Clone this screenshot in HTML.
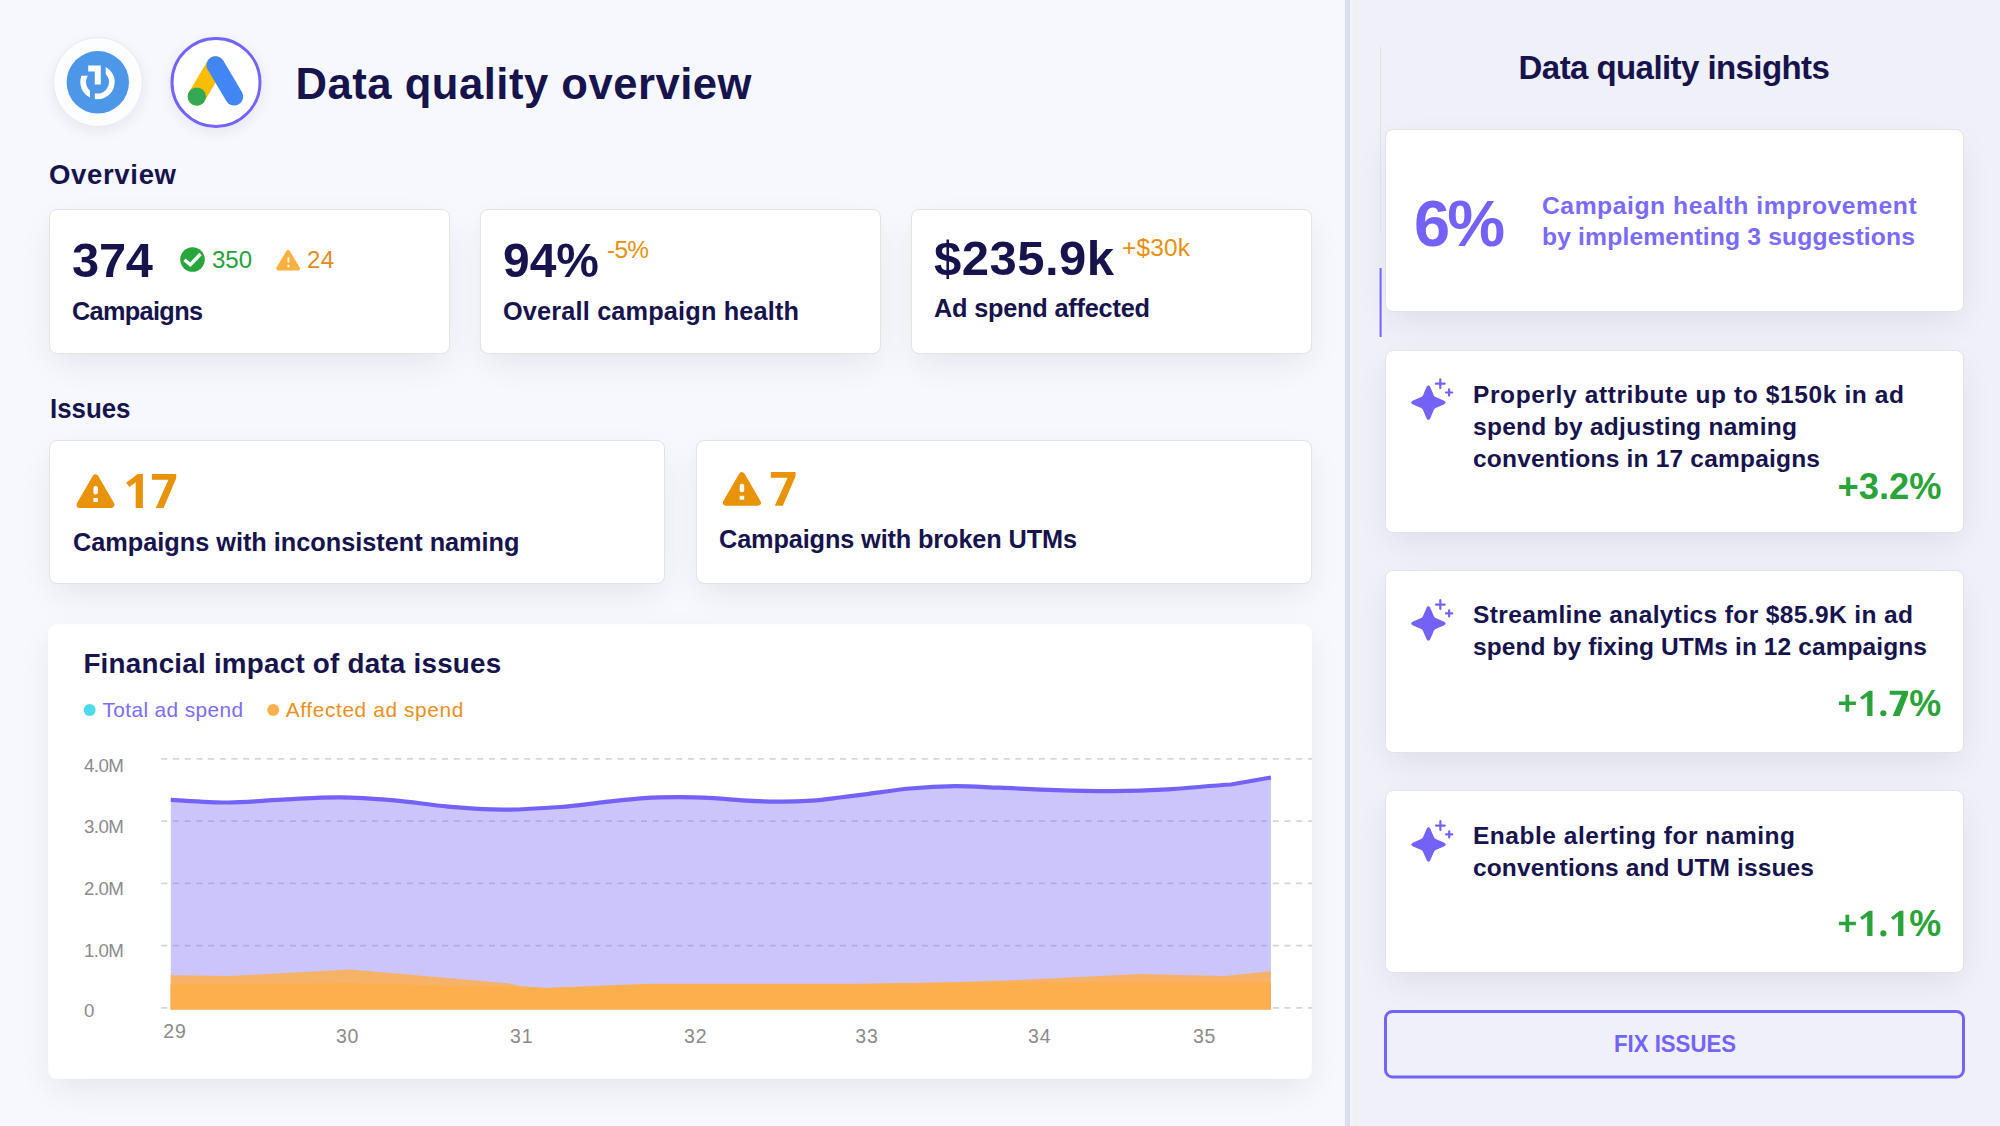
<!DOCTYPE html>
<html><head><meta charset="utf-8">
<style>
html,body{margin:0;padding:0;}
body{width:2000px;height:1126px;overflow:hidden;position:relative;background:#f7f8fd;font-family:"Liberation Sans",sans-serif;}
.card{position:absolute;background:#fff;border:1px solid #e3e3e6;border-radius:8px;box-sizing:border-box;box-shadow:0 12px 34px -6px rgba(40,40,70,0.10);}
#rp{position:absolute;left:1345px;top:0;width:655px;height:1126px;background:#f0f0f9;}
#div{position:absolute;left:1345px;top:0;width:5px;height:1126px;background:#dadeef;}
svg{position:absolute;left:0;top:0;}
text{font-family:"Liberation Sans",sans-serif;}
.b{font-weight:bold;}
.nv{fill:#16134d;}
</style></head><body>
<div id="rp"></div>
<div id="div"></div>
<div style="position:absolute;left:1350px;top:0;width:3px;height:1126px;background:#f2f3f8;"></div>

<!-- overview cards -->
<div class="card" style="left:49px;top:209px;width:401px;height:145px;"></div>
<div class="card" style="left:480px;top:209px;width:401px;height:145px;"></div>
<div class="card" style="left:911px;top:209px;width:401px;height:145px;"></div>
<!-- issues -->
<div class="card" style="left:49px;top:440px;width:616px;height:144px;"></div>
<div class="card" style="left:696px;top:440px;width:616px;height:144px;"></div>
<!-- chart -->
<div class="card" style="left:48px;top:624px;width:1264px;height:455px;border-color:#fbfbfd;"></div>
<!-- right cards -->
<div class="card" style="left:1385px;top:129px;width:579px;height:183px;"></div>
<div class="card" style="left:1385px;top:350px;width:579px;height:183px;"></div>
<div class="card" style="left:1385px;top:570px;width:579px;height:183px;"></div>
<div class="card" style="left:1385px;top:790px;width:579px;height:183px;"></div>

<div style="position:absolute;left:53.5px;top:37.5px;width:89px;height:89px;border-radius:50%;box-shadow:0 4px 14px rgba(30,30,90,0.08);"></div>
<div style="position:absolute;left:170.5px;top:36.9px;width:91px;height:91px;border-radius:50%;box-shadow:0 4px 14px rgba(30,30,90,0.08);"></div>
<svg width="2000" height="1126" viewBox="0 0 2000 1126">
<!-- logos -->
<defs><clipPath id="bc"><circle cx="97.8" cy="82.3" r="31.2"/></clipPath></defs>
<circle cx="98" cy="82" r="44.5" fill="#fcfdff" stroke="#e9e9ee" stroke-width="1"/>
<circle cx="97.8" cy="82.3" r="31.2" fill="#4d97e8"/>
<g clip-path="url(#bc)">
<circle cx="97.5" cy="82.1" r="14.35" fill="none" stroke="#fff" stroke-width="5.7"/>
<rect x="75" y="58" width="30.7" height="17.7" fill="#4d97e8"/>
<rect x="90" y="88" width="4.8" height="14" fill="#4d97e8"/>
<path d="M88.2 65.5H100.8V84.5H94.8V71.5H88.2Z" fill="#fff"/>
</g>
<circle cx="216" cy="82.4" r="44" fill="#fff" stroke="#7463f7" stroke-width="3"/>
<line x1="196.8" y1="96.6" x2="215.5" y2="65.2" stroke="#fbbc04" stroke-width="18" stroke-linecap="round"/>
<line x1="215.5" y1="65.2" x2="234.2" y2="96.6" stroke="#4285f4" stroke-width="18" stroke-linecap="round"/>
<circle cx="196.8" cy="96.6" r="9.2" fill="#34a853"/>

<text x="295.5" y="98.8" class="b nv" font-size="43.6" textLength="456">Data quality overview</text>
<text x="49" y="183.6" class="b nv" font-size="27.5" textLength="127">Overview</text>
<text x="50" y="417.5" class="b nv" font-size="28" textLength="80.5" lengthAdjust="spacingAndGlyphs">Issues</text>

<!-- card 1 -->
<text x="72" y="276.9" class="b nv" font-size="48.8" textLength="81">374</text>
<circle cx="192.5" cy="259.5" r="12.3" fill="#28a63c"/>
<path d="M184.4 259.8L190.3 264.7L200.5 254" fill="none" stroke="#fff" stroke-width="3.4"/>
<text x="212" y="268.1" fill="#22a33a" font-size="24" textLength="40">350</text>
<path d="M288.1 252L298 268.6H278.2Z" fill="#fbb040" stroke="#fbb040" stroke-width="4" stroke-linejoin="round"/>
<rect x="287.5" y="257.4" width="1.9" height="5.1" fill="#fff"/>
<rect x="287.5" y="264.7" width="1.9" height="2.5" fill="#fff"/>
<text x="307" y="268.1" fill="#e38a1d" font-size="24" textLength="27">24</text>
<text x="72" y="319.7" class="b nv" font-size="25.3" textLength="131">Campaigns</text>

<!-- card 2 -->
<text x="503" y="277.1" class="b nv" font-size="48.8" textLength="96" lengthAdjust="spacingAndGlyphs">94%</text>
<text x="607" y="257.7" fill="#e8900f" font-size="24.4" textLength="42">-5%</text>
<text x="503" y="320.1" class="b nv" font-size="25.3" textLength="296">Overall campaign health</text>

<!-- card 3 -->
<text x="934" y="274.5" class="b nv" font-size="49" textLength="180">$235.9k</text>
<text x="1122" y="255.6" fill="#e8900f" font-size="24.4" textLength="68">+$30k</text>
<text x="934" y="317.2" class="b nv" font-size="25.3" textLength="216">Ad spend affected</text>

<!-- issues -->
<path d="M95.5 477.6L111.2 504.7H79.8Z" fill="#e8930a" stroke="#e8930a" stroke-width="6.4" stroke-linejoin="round"/>
<rect x="93.4" y="486" width="4.5" height="8.4" rx="2" fill="#fff"/>
<rect x="93.4" y="498" width="4.5" height="3.9" fill="#fff"/>
<path d="M126.1 482.7L137.8 474H142.9V507.9H135.7V482.2L129.4 486.9Z M151.9 474H176.2V478.2L163.6 507.9H155.8L168.4 479.7H151.9Z" fill="#e8930a"/>
<text x="73" y="551" class="b nv" font-size="25.3" textLength="446.5">Campaigns with inconsistent naming</text>

<path d="M741.9 475.4L757.7 502.6H726.1Z" fill="#e8930a" stroke="#e8930a" stroke-width="6.4" stroke-linejoin="round"/>
<rect x="739.7" y="483.8" width="4.5" height="8.4" rx="2" fill="#fff"/>
<rect x="739.7" y="495.8" width="4.5" height="3.9" fill="#fff"/>
<path d="M770.8 472H795.6V476.2L782.8 505.8H774.8L787.6 477.7H770.8Z" fill="#e8930a"/>
<text x="719" y="548" class="b nv" font-size="25.3" textLength="358">Campaigns with broken UTMs</text>

<!-- CHART -->
<text x="83.4" y="673.4" class="b nv" font-size="27.8" textLength="417.8">Financial impact of data issues</text>

<text x="102.5" y="717" fill="#7b6cf6" font-size="20.8" textLength="140.5">Total ad spend</text>
<circle cx="89.6" cy="710" r="6" fill="#4ddbe9"/>
<circle cx="273.2" cy="710" r="6" fill="#fdb04f"/>
<text x="285.8" y="717" fill="#e8901e" font-size="20.8" textLength="177.5">Affected ad spend</text>
<g fill="#8b8b8b" font-size="18.7">
<text x="83.9" y="772" textLength="40">4.0M</text>
<text x="83.9" y="833.4" textLength="40">3.0M</text>
<text x="83.9" y="895" textLength="40">2.0M</text>
<text x="83.9" y="956.8" textLength="40">1.0M</text>
<text x="84" y="1017.4">0</text>
</g>
<g fill="#8b8b8b" font-size="19.5">
<text x="163.3" y="1038.4" textLength="22.5">29</text>
<text x="335.9" y="1043" textLength="22.5">30</text>
<text x="510" y="1043" textLength="22.5">31</text>
<text x="684.1" y="1043" textLength="22.5">32</text>
<text x="855.3" y="1043" textLength="22.5">33</text>
<text x="1028" y="1043" textLength="22.5">34</text>
<text x="1192.9" y="1043" textLength="22.5">35</text>
</g>
<g stroke="#d6d6d8" stroke-width="1.8" stroke-dasharray="6 5.7" stroke-dashoffset="-2.7">
<line x1="158.6" y1="758.9" x2="1312" y2="758.9"/>
<line x1="158.6" y1="821.1" x2="1312" y2="821.1"/>
<line x1="158.6" y1="883.3" x2="1312" y2="883.3"/>
<line x1="158.6" y1="945.6" x2="1312" y2="945.6"/>
<line x1="158.6" y1="1007.8" x2="1312" y2="1007.8"/>
</g>
<path d="M170.8 799.8 C180.4 800.2 209.2 802.6 228.4 802.5 C247.6 802.4 267.4 800.3 286.0 799.4 C304.6 798.5 322.0 797.1 340.0 797.3 C358.0 797.4 376.0 798.8 394.0 800.3 C412.0 801.8 430.0 805.0 448.0 806.6 C466.0 808.2 483.3 809.6 502.0 809.7 C520.7 809.8 543.3 808.2 560.0 807.0 C576.7 805.8 588.0 803.9 602.0 802.4 C616.0 800.9 631.2 799.1 644.0 798.2 C656.8 797.3 667.3 797.1 679.0 797.1 C690.7 797.1 703.5 797.7 714.0 798.2 C724.5 798.7 731.5 799.7 742.0 800.3 C752.5 800.9 765.3 801.6 777.0 801.7 C788.7 801.8 801.5 801.4 812.0 800.7 C822.5 800.0 831.2 798.6 840.0 797.5 C848.8 796.4 853.3 795.8 865.0 794.3 C876.7 792.8 895.0 789.9 910.0 788.5 C925.0 787.1 940.0 786.3 955.0 786.2 C970.0 786.1 983.2 787.1 1000.0 787.7 C1016.8 788.4 1037.3 789.5 1056.0 790.1 C1074.7 790.7 1093.3 791.2 1112.0 791.1 C1130.7 791.0 1148.2 790.5 1168.0 789.4 C1187.8 788.3 1210.7 785.6 1231.0 784.5 L1270.9 777.5 L1270.9 1009.6 L170.8 1009.6 Z" fill="#7461f7" fill-opacity="0.37"/>
<path d="M170.6 975.2 L230.0 976.0 L350.4 969.6 L510.0 983.6 L521.0 986.4 L546.0 988.0 L650.0 984.5 L860.0 984.3 L944.0 982.6 L1028.0 979.6 L1140.0 974.0 L1224.0 976.0 L1270.8 971.2 L1270.8 1009.6 L170.6 1009.6Z" fill="#fdaf4d" fill-opacity="0.85"/>
<path d="M170.6 984.4 L350.0 983.0 L510.0 987.2 L521.0 986.4 L546.0 988.0 L650.0 983.8 L860.0 983.8 L944.0 982.4 L1028.0 982.2 L1270.8 982.2 L1270.8 1009.6 L170.6 1009.6Z" fill="#fdaf4d"/>
<path d="M170.8 799.8 C180.4 800.2 209.2 802.6 228.4 802.5 C247.6 802.4 267.4 800.3 286.0 799.4 C304.6 798.5 322.0 797.1 340.0 797.3 C358.0 797.4 376.0 798.8 394.0 800.3 C412.0 801.8 430.0 805.0 448.0 806.6 C466.0 808.2 483.3 809.6 502.0 809.7 C520.7 809.8 543.3 808.2 560.0 807.0 C576.7 805.8 588.0 803.9 602.0 802.4 C616.0 800.9 631.2 799.1 644.0 798.2 C656.8 797.3 667.3 797.1 679.0 797.1 C690.7 797.1 703.5 797.7 714.0 798.2 C724.5 798.7 731.5 799.7 742.0 800.3 C752.5 800.9 765.3 801.6 777.0 801.7 C788.7 801.8 801.5 801.4 812.0 800.7 C822.5 800.0 831.2 798.6 840.0 797.5 C848.8 796.4 853.3 795.8 865.0 794.3 C876.7 792.8 895.0 789.9 910.0 788.5 C925.0 787.1 940.0 786.3 955.0 786.2 C970.0 786.1 983.2 787.1 1000.0 787.7 C1016.8 788.4 1037.3 789.5 1056.0 790.1 C1074.7 790.7 1093.3 791.2 1112.0 791.1 C1130.7 791.0 1148.2 790.5 1168.0 789.4 C1187.8 788.3 1210.7 785.6 1231.0 784.5 L1270.9 777.5" fill="none" stroke="#7461f7" stroke-width="4.2"/>

<rect x="1380" y="47" width="1" height="185" fill="#e0e0e6"/>
<rect x="1379.6" y="268" width="2" height="69" fill="#7463f7"/>
<text x="1518.6" y="78.9" class="b nv" font-size="33" textLength="311.3">Data quality insights</text>
<text x="1414" y="245.5" class="b" fill="#7461f6" font-size="65" textLength="91">6%</text>
<g class="b" fill="#7b6af6" font-size="24.7">
<text x="1542" y="213.5" textLength="374.7">Campaign health improvement</text>
<text x="1542" y="244.8" textLength="373">by implementing 3 suggestions</text>
</g>
<g transform="translate(1428.4,402.6)" fill="#7461f6">
<path d="M-2.00 -15.30 C-1.00 -17.80 1.00 -17.80 2.00 -15.30 L5.49 -7.19 Q6.00 -6.00 7.19 -5.49 L15.30 -2.00 C17.80 -1.00 17.80 1.00 15.30 2.00 L7.19 5.49 Q6.00 6.00 5.49 7.19 L2.00 15.30 C1.00 17.80 -1.00 17.80 -2.00 15.30 L-5.49 7.19 Q-6.00 6.00 -7.19 5.49 L-15.30 2.00 C-17.80 1.00 -17.80 -1.00 -15.30 -2.00 L-7.19 -5.49 Q-6.00 -6.00 -5.49 -7.19 L-2.00 -15.30Z"/>
<path d="M11.9 -23.3V-14.5M7.5 -18.9H16.3M20.7 -13.2V-7M17.6 -10.1H23.8" stroke="#7461f6" stroke-width="2.2" stroke-linecap="round" fill="none"/>
</g>
<g class="b nv" font-size="24.5">
<text x="1473" y="402.5" textLength="431">Properly attribute up to $150k in ad</text>
<text x="1473" y="435.1" textLength="324">spend by adjusting naming</text>
<text x="1473" y="466.6" textLength="347">conventions in 17 campaigns</text>
</g>
<text x="1837.5" y="499.3" class="b" fill="#2ba33b" font-size="36.5" textLength="104" lengthAdjust="spacingAndGlyphs">+3.2%</text>
<g transform="translate(1428.4,623.5)" fill="#7461f6">
<path d="M-2.00 -15.30 C-1.00 -17.80 1.00 -17.80 2.00 -15.30 L5.49 -7.19 Q6.00 -6.00 7.19 -5.49 L15.30 -2.00 C17.80 -1.00 17.80 1.00 15.30 2.00 L7.19 5.49 Q6.00 6.00 5.49 7.19 L2.00 15.30 C1.00 17.80 -1.00 17.80 -2.00 15.30 L-5.49 7.19 Q-6.00 6.00 -7.19 5.49 L-15.30 2.00 C-17.80 1.00 -17.80 -1.00 -15.30 -2.00 L-7.19 -5.49 Q-6.00 -6.00 -5.49 -7.19 L-2.00 -15.30Z"/>
<path d="M11.9 -23.3V-14.5M7.5 -18.9H16.3M20.7 -13.2V-7M17.6 -10.1H23.8" stroke="#7461f6" stroke-width="2.2" stroke-linecap="round" fill="none"/>
</g>
<g class="b nv" font-size="24.5">
<text x="1473" y="623.4" textLength="440">Streamline analytics for $85.9K in ad</text>
<text x="1473" y="655.1" textLength="454">spend by fixing UTMs in 12 campaigns</text>
</g>
<path d="M1838.9 701.6H1855.9V705.1H1838.9Z M1845.5 694.7H1849.2V711.8H1845.5Z M1860.0 697.4L1869.0 690.7H1872.5V715.9H1867.2V696.2L1862.4 699.8Z M1889.7 690.7H1908.0V694.4L1899.6 715.9H1892.7L1901.7 694.7H1889.7Z" fill="#2ba33b"/><circle cx="1883.3" cy="713.3" r="3.05" fill="#2ba33b"/><text x="1909.2" y="715.9" class="b" fill="#2ba33b" font-size="36.5" textLength="32" lengthAdjust="spacingAndGlyphs">%</text>
<g transform="translate(1428.5,844.5)" fill="#7461f6">
<path d="M-2.00 -15.30 C-1.00 -17.80 1.00 -17.80 2.00 -15.30 L5.49 -7.19 Q6.00 -6.00 7.19 -5.49 L15.30 -2.00 C17.80 -1.00 17.80 1.00 15.30 2.00 L7.19 5.49 Q6.00 6.00 5.49 7.19 L2.00 15.30 C1.00 17.80 -1.00 17.80 -2.00 15.30 L-5.49 7.19 Q-6.00 6.00 -7.19 5.49 L-15.30 2.00 C-17.80 1.00 -17.80 -1.00 -15.30 -2.00 L-7.19 -5.49 Q-6.00 -6.00 -5.49 -7.19 L-2.00 -15.30Z"/>
<path d="M11.9 -23.3V-14.5M7.5 -18.9H16.3M20.7 -13.2V-7M17.6 -10.1H23.8" stroke="#7461f6" stroke-width="2.2" stroke-linecap="round" fill="none"/>
</g>
<g class="b nv" font-size="24.5">
<text x="1473" y="843.9" textLength="322">Enable alerting for naming</text>
<text x="1473" y="875.9" textLength="341">conventions and UTM issues</text>
</g>
<path d="M1838.9 921.7H1855.9V925.2H1838.9Z M1845.5 914.8H1849.2V931.9H1845.5Z M1860.0 917.5L1869.0 910.8H1872.5V936.0H1867.2V916.3L1862.4 919.9Z M1890.9 917.5L1899.9 910.8H1903.4V936.0H1898.1V916.3L1893.3 919.9Z" fill="#2ba33b"/><circle cx="1883.3" cy="933.4" r="3.05" fill="#2ba33b"/><text x="1909.2" y="936.0" class="b" fill="#2ba33b" font-size="36.5" textLength="32" lengthAdjust="spacingAndGlyphs">%</text>
<rect x="1385.5" y="1011.5" width="578" height="65.5" rx="7" fill="none" stroke="#7463f7" stroke-width="3"/>
<text x="1614" y="1052.2" class="b" fill="#7463f7" font-size="24.5" textLength="122" lengthAdjust="spacingAndGlyphs">FIX ISSUES</text>
</svg>
</body></html>
